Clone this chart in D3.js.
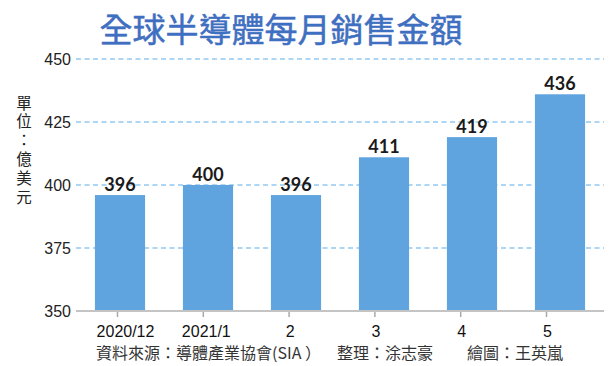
<!DOCTYPE html>
<html><head><meta charset="utf-8">
<script src="https://cdn.jsdelivr.net/npm/d3@7"></script>
<style>
html,body{margin:0;padding:0;background:#fff;}
svg{display:block;}
</style></head>
<body>
<svg id="chart" width="616" height="366"></svg>
<script>
const categories = ["2020/12", "2021/1", "2", "3", "4", "5"];
const values = [396, 400, 396, 411, 419, 436];
const yTicks = [350, 375, 400, 425, 450];
const titleText = "全球半導體每月銷售金額";
const unitText = "單位：億美元";
const sourceText = "資料來源：導體產業協會(SIA ）";
const editText = "整理：涂志豪";
const drawText = "繪圖：王英嵐";

const svg = d3.select("#chart");
const cjk = "'Noto Sans CJK TC','Noto Sans CJK SC',sans-serif";
const num = "Lato,'Open Sans',sans-serif";

const x = d3.scaleBand().domain(categories).range([76, 604]).paddingInner(0.43).paddingOuter(0.215);
const xTick = d3.scalePoint().domain(categories).range([117, 546]);
const y = d3.scaleLinear().domain([350, 450]).range([311, 59]);

// title
svg.append("text").attr("x", 281).attr("y", 42).attr("text-anchor", "middle")
  .attr("font-family", cjk).attr("font-weight", "normal").attr("font-size", 33)
  .attr("fill", "#3f6fc0").attr("stroke", "#3f6fc0").attr("stroke-width", 0.5)
  .text(titleText);

// gridlines
svg.append("g").selectAll("line").data(yTicks.filter(d => d > 350)).join("line")
  .attr("x1", 76).attr("x2", 604).attr("y1", d => y(d)).attr("y2", d => y(d))
  .attr("stroke", "#5aaeea").attr("stroke-width", 1.2).attr("stroke-dasharray", "5,3.5");

// y tick labels
svg.append("g").selectAll("text").data(yTicks).join("text")
  .attr("x", 71).attr("y", d => y(d) + 5.5).attr("text-anchor", "end")
  .attr("font-family", "'Liberation Sans',Arial,sans-serif").attr("font-size", 16).attr("fill", "#222")
  .text(d => d);

// unit label vertical
svg.append("text").attr("x", 24).attr("y", 95)
  .style("writing-mode", "vertical-rl").style("text-orientation", "upright")
  .attr("font-family", cjk).attr("font-size", 15.5).attr("letter-spacing", 3.3).attr("fill", "#222")
  .text(unitText);

// bars
svg.append("g").selectAll("rect").data(values).join("rect")
  .attr("x", (d, i) => x(categories[i])).attr("width", x.bandwidth())
  .attr("y", d => y(d)).attr("height", d => y(350) - y(d))
  .attr("fill", "#5fa4df");

// value labels
svg.append("g").selectAll("text").data(values).join("text")
  .attr("x", (d, i) => x(categories[i]) + x.bandwidth() / 2).attr("y", d => y(d) - 4)
  .attr("text-anchor", "middle").attr("font-family", num).attr("font-weight", "bold")
  .attr("font-size", 18).attr("fill", "#1a1a1a").text(d => d);

// x axis
const xAxis = svg.append("g").attr("transform", "translate(0,311)")
  .call(d3.axisBottom(xTick).tickSize(6).tickPadding(9));
xAxis.select(".domain").remove();
xAxis.selectAll(".tick line").attr("stroke", "#aaa").attr("stroke-width", 1.5);
xAxis.selectAll(".tick text").attr("font-family", "'Liberation Sans',Arial,sans-serif")
  .attr("font-size", 16).attr("fill", "#111")
  .attr("dx", (d, i) => i === 0 ? 8 : (i === 1 ? 3 : 1));
svg.append("line").attr("x1", 76).attr("x2", 604).attr("y1", 311).attr("y2", 311)
  .attr("stroke", "#c4c4c4").attr("stroke-width", 2);

// source line
const src = svg.append("g").attr("font-family", cjk).attr("font-size", 16).attr("fill", "#333");
src.append("text").attr("x", 96).attr("y", 359).text(sourceText);
src.append("text").attr("x", 337).attr("y", 359).text(editText);
src.append("text").attr("x", 467).attr("y", 359).text(drawText);
</script>
</body></html>
